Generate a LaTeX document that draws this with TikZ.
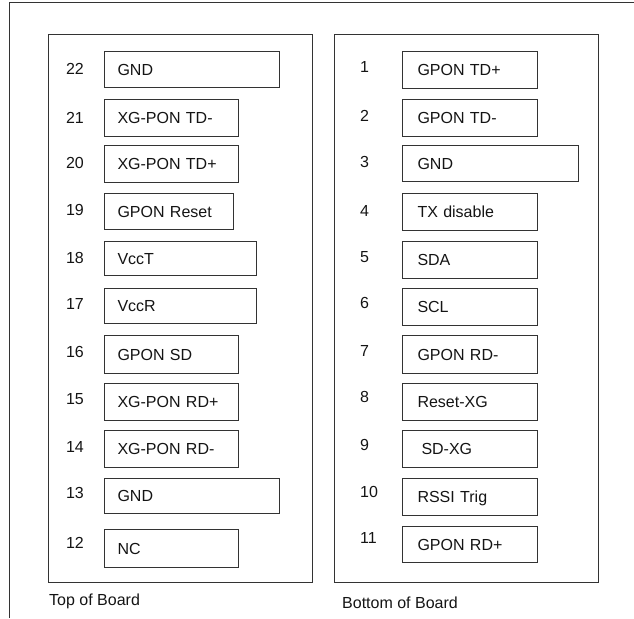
\documentclass[tikz,border=0pt]{standalone}
\usepackage{fontspec}
\setmainfont{Liberation Sans}
\definecolor{linec}{RGB}{51,51,51}
\definecolor{textc}{RGB}{20,20,20}
\begin{document}
\begin{tikzpicture}[x=1pt,y=-1pt,
  txt/.style={font=\fontsize{16}{19}\selectfont, text=textc, text height=11.5pt, text depth=0pt},
  panel/.style={draw=linec, line width=1pt, inner sep=0pt, anchor=north west},
  pinbox/.style={txt, draw=linec, line width=1pt, anchor=north west, inner ysep=0pt, align=left},
  pinnum/.style={txt, inner sep=0pt},
  caption/.style={txt, inner sep=0pt, anchor=west}]
\useasboundingbox (0,0) rectangle (634,618);
% outer frame
\coordinate (fa) at (9.5,618);
\coordinate (fb) at (9.5,3);
\coordinate (fc) at (634,3);
\draw[linec, line width=1pt] (fa) -- (fb) -- (fc);
% panels
\node[panel, minimum width=264pt, minimum height=548pt] (top) at (48,34) {};
\node[panel, minimum width=264pt, minimum height=548pt] (bottom) at (334,34) {};
% left pins: \lpin{num}{ytop}{ybot}{xright}{label}{numy}
\newcommand{\lpin}[6]{%
  \pgfmathsetmacro{\ww}{#4-104}\pgfmathsetmacro{\hh}{#3-#2}\pgfmathsetmacro{\tw}{#4-104-26}%
  \node[pinbox, inner xsep=13pt, text width=\tw pt, minimum height=\hh pt] (L#1) at (104,#2) {#5};
  \node[pinnum] (LN#1) at (75,#6) {#1};}
\newcommand{\rpin}[6]{%
  \pgfmathsetmacro{\hh}{#3-#2}\pgfmathsetmacro{\tw}{#4-402-30}%
  \node[pinbox, inner xsep=15pt, text width=\tw pt, minimum height=\hh pt] (R#1) at (402,#2) {#5};
  \node[pinnum, anchor=west] (RN#1) at (360,#6) {#1};}
\lpin{22}{51}{87}{279}{GND}{69}
\lpin{21}{99}{136}{238}{XG-PON TD-}{118}
\lpin{20}{145}{182}{238}{XG-PON TD+}{163}
\lpin{19}{193}{229}{233}{GPON Reset}{210}
\lpin{18}{241}{275}{256}{VccT}{258}
\lpin{17}{288}{323}{256}{VccR}{304}
\lpin{16}{335}{373}{238}{GPON SD}{352}
\lpin{15}{383}{420}{238}{XG-PON RD+}{399}
\lpin{14}{430}{467}{238}{XG-PON RD-}{447}
\lpin{13}{478}{513}{279}{GND}{493}
\lpin{12}{529}{567}{238}{NC}{543}
\rpin{1}{51}{88}{537}{GPON TD+}{67}
\rpin{2}{99}{136}{537}{GPON TD-}{116}
\rpin{3}{145}{181}{578}{GND}{162}
\rpin{4}{193}{230}{537}{TX disable}{211}
\rpin{5}{241}{278}{537}{SDA}{257}
\rpin{6}{288}{325}{537}{SCL}{303}
\rpin{7}{335}{373}{537}{GPON RD-}{351}
\rpin{8}{383}{420}{537}{Reset-XG}{397}
\rpin{9}{430}{467}{537}{\hspace{4pt}SD-XG}{445}
\rpin{10}{478}{515}{537}{RSSI Trig}{492}
\rpin{11}{526}{562}{537}{GPON RD+}{538}
% captions
\node[caption] (captop) at (49,600) {Top of Board};
\node[caption] (capbot) at (342,603) {Bottom of Board};
\end{tikzpicture}
\end{document}
